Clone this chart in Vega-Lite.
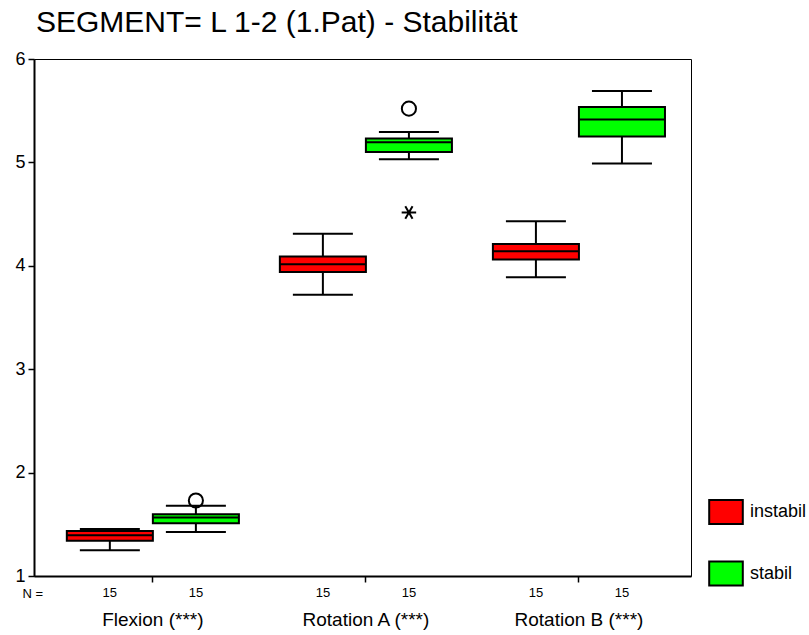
{
  "$schema": "https://vega.github.io/schema/vega-lite/v6.json",
  "autosize": "none",
  "width": 657,
  "height": 517,
  "padding": {"left": 34, "top": 59, "right": 118, "bottom": 59},
  "background": "white",
  "config": {
    "font": "Liberation Sans",
    "view": {"stroke": "black", "strokeWidth": 1}
  },
  "title": {
    "text": "SEGMENT= L 1-2 (1.Pat) - Stabilität",
    "anchor": "start",
    "frame": "group",
    "fontSize": 30,
    "fontWeight": "normal",
    "color": "black",
    "offset": 12,
    "dx": 2
  },
  "datasets": {
    "boxes": [
      {"measure": "Flexion (***)", "group": "instabil", "min": 1.25, "q1": 1.34, "median": 1.395, "q3": 1.435, "max": 1.455, "n": "15"},
      {"measure": "Flexion (***)", "group": "stabil", "min": 1.425, "q1": 1.51, "median": 1.565, "q3": 1.597, "max": 1.68, "n": "15"},
      {"measure": "Rotation A (***)", "group": "instabil", "min": 3.72, "q1": 3.94, "median": 4.015, "q3": 4.09, "max": 4.31, "n": "15"},
      {"measure": "Rotation A (***)", "group": "stabil", "min": 5.03, "q1": 5.1, "median": 5.195, "q3": 5.23, "max": 5.295, "n": "15"},
      {"measure": "Rotation B (***)", "group": "instabil", "min": 3.89, "q1": 4.06, "median": 4.14, "q3": 4.21, "max": 4.43, "n": "15"},
      {"measure": "Rotation B (***)", "group": "stabil", "min": 4.99, "q1": 5.25, "median": 5.415, "q3": 5.535, "max": 5.69, "n": "15"}
    ],
    "outliers": [
      {"measure": "Flexion (***)", "group": "stabil", "value": 1.73, "type": "outlier"},
      {"measure": "Rotation A (***)", "group": "stabil", "value": 5.52, "type": "outlier"},
      {"measure": "Rotation A (***)", "group": "stabil", "value": 4.515, "type": "extreme"}
    ]
  },
  "encoding": {
    "x": {
      "field": "measure",
      "type": "nominal",
      "sort": ["Flexion (***)", "Rotation A (***)", "Rotation B (***)"],
      "scale": {"paddingInner": 0, "paddingOuter": 0.042, "align": 0.69},
      "axis": {
        "title": "N =",
        "titleFontSize": 13,
        "titleFontWeight": "normal",
        "titleColor": "black",
        "titleX": -12,
        "titleY": 17,
        "titleAlign": "left",
        "titleBaseline": "middle",
        "titleAnchor": "start",
        "labelAngle": 0,
        "labelFontSize": 19,
        "labelColor": "black",
        "labelPadding": 28,
        "tickSize": 6,
        "tickColor": "black",
        "tickWidth": 1.5,
        "domainColor": "black",
        "domainWidth": 2
      }
    },
    "xOffset": {
      "field": "group",
      "type": "nominal",
      "scale": {"paddingInner": 0, "paddingOuter": 0.238}
    }
  },
  "layer": [
    {
      "data": {"name": "boxes"},
      "mark": {"type": "rule", "color": "black", "strokeWidth": 2},
      "encoding": {
        "y": {
          "field": "min",
          "type": "quantitative",
          "scale": {"domain": [1, 6], "nice": false, "zero": false},
          "axis": {
            "title": null,
            "values": [1, 2, 3, 4, 5, 6],
            "format": "d",
            "grid": false,
            "labelFontSize": 18,
            "labelColor": "black",
            "labelPadding": 3,
            "tickSize": 6,
            "tickColor": "black",
            "tickWidth": 1.5,
            "domainColor": "black",
            "domainWidth": 2
          }
        },
        "y2": {"field": "max"}
      }
    },
    {
      "data": {"name": "boxes"},
      "mark": {"type": "tick", "color": "black", "size": 60, "thickness": 2, "opacity": 1},
      "encoding": {"y": {"field": "min", "type": "quantitative"}}
    },
    {
      "data": {"name": "boxes"},
      "mark": {"type": "tick", "color": "black", "size": 60, "thickness": 2, "opacity": 1},
      "encoding": {"y": {"field": "max", "type": "quantitative"}}
    },
    {
      "data": {"name": "boxes"},
      "mark": {"type": "bar", "stroke": "black", "strokeWidth": 2, "opacity": 1},
      "encoding": {
        "y": {"field": "q1", "type": "quantitative"},
        "y2": {"field": "q3"},
        "color": {
          "field": "group",
          "type": "nominal",
          "scale": {"domain": ["instabil", "stabil"], "range": ["#ff0000", "#00ff00"]},
          "legend": {
            "title": null,
            "orient": "none",
            "legendX": 679,
            "legendY": 440,
            "symbolType": "M-1.4,-1H1.4V1H-1.4Z",
            "symbolSize": 576,
            "symbolStrokeColor": "black",
            "symbolStrokeWidth": 2,
            "symbolOpacity": 1,
            "labelFontSize": 18,
            "labelColor": "black",
            "labelOffset": 11,
            "rowPadding": 29.5
          }
        }
      }
    },
    {
      "data": {"name": "boxes"},
      "mark": {"type": "tick", "color": "black", "size": 86, "thickness": 2, "opacity": 1},
      "encoding": {"y": {"field": "median", "type": "quantitative"}}
    },
    {
      "data": {"name": "outliers"},
      "transform": [{"filter": "datum.type === 'outlier'"}],
      "mark": {"type": "point", "shape": "circle", "filled": false, "size": 200, "stroke": "black", "strokeWidth": 2, "opacity": 1},
      "encoding": {"y": {"field": "value", "type": "quantitative"}}
    },
    {
      "data": {"name": "outliers"},
      "transform": [{"filter": "datum.type === 'extreme'"}],
      "mark": {"type": "point", "shape": "M-1,0L1,0M-0.5,-0.866L0.5,0.866M-0.5,0.866L0.5,-0.866", "filled": false, "size": 210, "stroke": "black", "strokeWidth": 2, "opacity": 1},
      "encoding": {"y": {"field": "value", "type": "quantitative"}}
    },
    {
      "data": {"name": "boxes"},
      "mark": {"type": "text", "fontSize": 13, "color": "black", "dy": 17, "baseline": "middle"},
      "encoding": {
        "y": {"datum": 1},
        "text": {"field": "n"}
      }
    }
  ]
}
